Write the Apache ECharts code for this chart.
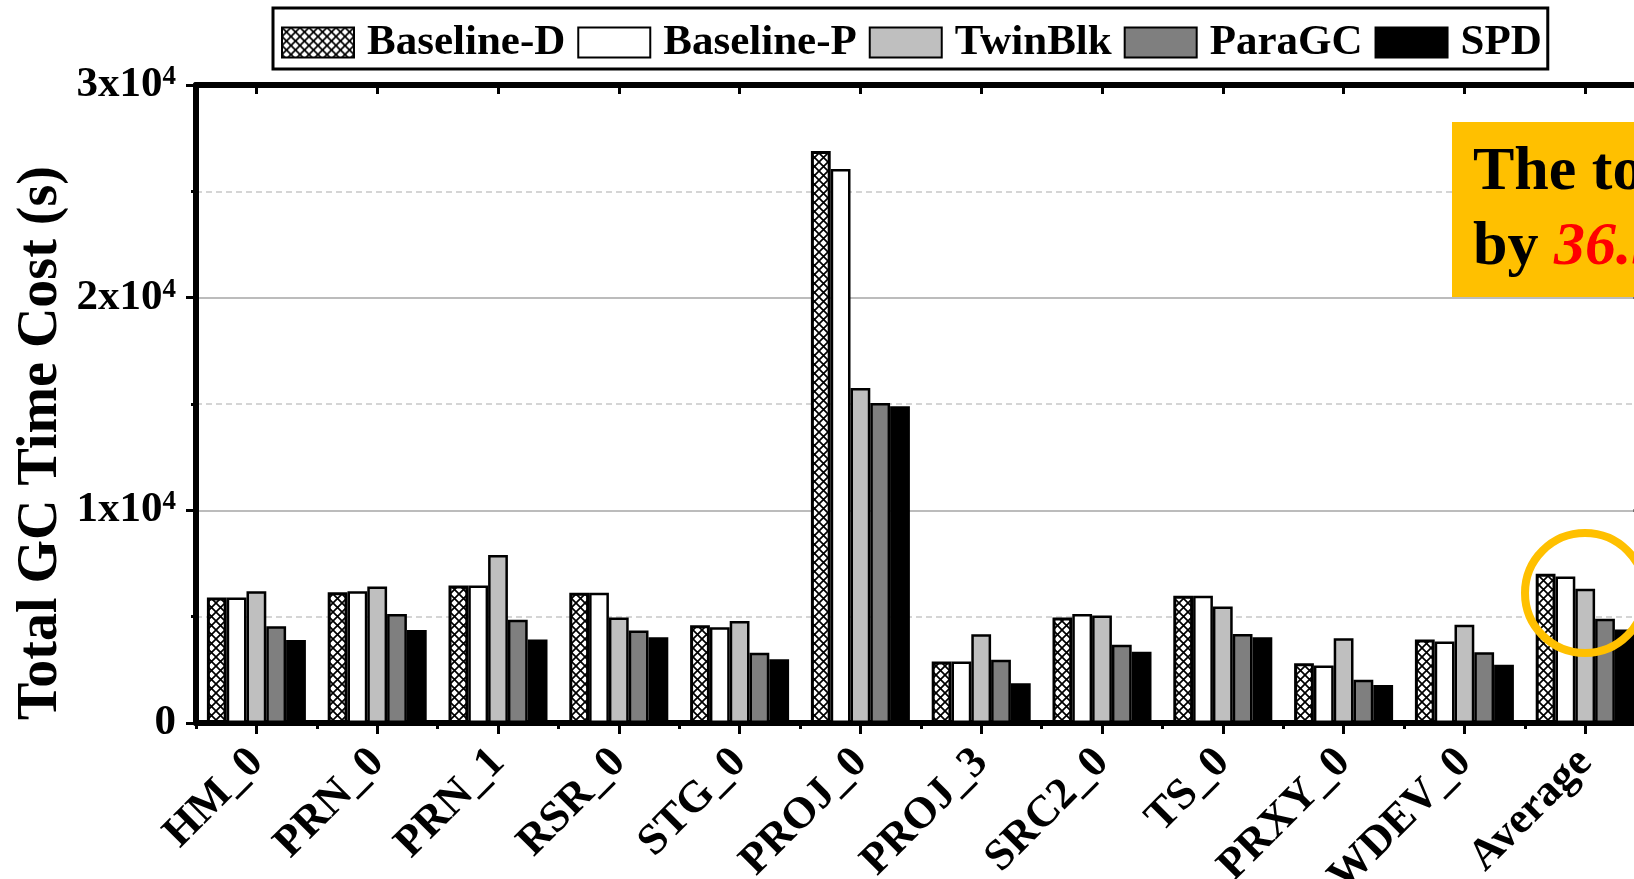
<!DOCTYPE html>
<html>
<head>
<meta charset="utf-8">
<script src="https://cdn.jsdelivr.net/npm/echarts@6/dist/echarts.min.js"></script>
<style>
  html, body { margin: 0; padding: 0; background: #fff; }
  #chart { width: 1634px; height: 879px; }
</style>
</head>
<body>
<div id="chart"></div>
<script>
// Workloads on the x axis
const categories = ['HM_0', 'PRN_0', 'PRN_1', 'RSR_0', 'STG_0', 'PROJ_0', 'PROJ_3', 'SRC2_0', 'TS_0', 'PRXY_0', 'WDEV_0', 'Average'];
// Total GC time cost (s) per scheme
const baselineD = [5900, 6150, 6460, 6130, 4600, 26900, 2890, 4960, 5980, 2810, 3930, 7020];
const baselineP = [5900, 6200, 6460, 6130, 4500, 26050, 2890, 5120, 5980, 2700, 3830, 6890];
const twinBlk   = [6200, 6420, 7900, 4960, 4800, 15750, 4170, 5050, 5480, 3990, 4620, 6310];
const paraGC    = [4550, 5130, 4850, 4350, 3300, 15050, 2970, 3680, 4190, 2030, 3330, 4900];
const spd       = [3900, 4370, 3930, 4030, 3000, 14900, 1870, 3350, 4030, 1790, 2740, 4400];
// y axis range and labelled ticks
const yMin = 0, yMax = 30000, yStep = 10000;

const SERIF = '"Liberation Serif", "Times New Roman", serif';

// cross-hatch fill for Baseline-D
function crossHatch() {
  const n = 9;
  const c = document.createElement('canvas');
  c.width = n; c.height = n;
  const g = c.getContext('2d');
  g.fillStyle = '#fff';
  g.fillRect(0, 0, n, n);
  g.strokeStyle = '#000';
  g.lineWidth = 1.7;
  g.beginPath();
  g.moveTo(-1, -1); g.lineTo(n + 1, n + 1);
  g.moveTo(n + 1, -1); g.lineTo(-1, n + 1);
  g.stroke();
  return c;
}

const chart = echarts.init(document.getElementById('chart'), null, { renderer: 'canvas' });

const gridLeft = 196, gridTop = 85, gridWidth = 1449.6, gridHeight = 638;

function barSeries(name, data, fill, border, bw) {
  return {
    name, type: 'bar', data,
    xAxisIndex: 0, yAxisIndex: 0,
    barWidth: 19.8, barGap: '0%',
    itemStyle: { color: fill, borderColor: border, borderWidth: bw },
    emphasis: { disabled: true },
    z: 3
  };
}

const option = {
  animation: false,
  backgroundColor: '#fff',
  grid: {
    left: gridLeft, top: gridTop, width: gridWidth, height: gridHeight,
    containLabel: false, outerBoundsMode: 'none'
  },
  legend: {
    left: 273, top: 8,
    padding: [13, 6, 5, 8],
    borderColor: '#000', borderWidth: 3,
    itemWidth: 72, itemHeight: 30, itemGap: 12,
    icon: 'rect',
    selectedMode: false,
    textStyle: { fontFamily: SERIF, fontWeight: 'bold', fontSize: 43, color: '#000', padding: [0, 0, 0, 8] },
    data: ['Baseline-D', 'Baseline-P', 'TwinBlk', 'ParaGC', 'SPD']
  },
  xAxis: [
    {
      type: 'category', data: categories, position: 'bottom',
      axisLine: { show: true, lineStyle: { color: '#000', width: 6 } },
      axisTick: { show: true, alignWithLabel: true, length: 11, lineStyle: { color: '#000', width: 3 } },
      axisLabel: { interval: 0, rotate: 45, margin: 33, fontFamily: SERIF, fontWeight: 'bold', fontSize: 44, color: '#000' },
      splitLine: { show: false }
    },
    {
      type: 'category', data: categories, position: 'bottom',
      axisLine: { show: false },
      axisTick: { show: true, alignWithLabel: false, length: 6, lineStyle: { color: '#000', width: 3 } },
      axisLabel: { show: false },
      splitLine: { show: false }
    },
    {
      type: 'category', data: categories, position: 'top',
      axisLine: { show: true, lineStyle: { color: '#000', width: 6 } },
      axisTick: { show: true, inside: true, alignWithLabel: true, length: 9, lineStyle: { color: '#000', width: 3 } },
      axisLabel: { show: false },
      splitLine: { show: false }
    }
  ],
  yAxis: [
    {
      type: 'value', min: yMin, max: yMax, interval: yStep, position: 'left',
      axisLine: { show: true, lineStyle: { color: '#000', width: 6 } },
      axisTick: { show: true, length: 10, lineStyle: { color: '#000', width: 3 } },
      minorTick: { show: true, splitNumber: 2, length: 5, lineStyle: { color: '#000', width: 3 } },
      splitLine: { show: true, lineStyle: { color: '#a6a6a6', width: 1.5 } },
      minorSplitLine: { show: true, lineStyle: { color: '#c8c8c8', width: 1.5, type: [6, 4] } },
      axisLabel: {
        margin: 20,
        formatter: v => v === 0 ? '{b|0}' : '{b|' + (v / 10000) + 'x10}{s|4}',
        rich: {
          b: { fontFamily: SERIF, fontWeight: 'bold', fontSize: 43, color: '#000' },
          s: { fontFamily: SERIF, fontWeight: 'bold', fontSize: 27, color: '#000', verticalAlign: 'top' }
        }
      }
    },
    {
      type: 'value', min: yMin, max: yMax, interval: yStep, position: 'right',
      axisLine: { show: true, lineStyle: { color: '#000', width: 6 } },
      axisTick: { show: true, inside: true, length: 12, lineStyle: { color: '#000', width: 3 } },
      axisLabel: { show: false },
      splitLine: { show: false }
    }
  ],
  series: [
    barSeries('Baseline-D', baselineD, { image: crossHatch(), repeat: 'repeat' }, '#000', 3),
    barSeries('Baseline-P', baselineP, '#ffffff', '#000', 2.5),
    barSeries('TwinBlk', twinBlk, '#bfbfbf', '#000', 2.5),
    barSeries('ParaGC', paraGC, '#7f7f7f', '#000', 2.5),
    barSeries('SPD', spd, '#000000', '#000', 2.5)
  ],
  graphic: [
    {
      type: 'text', x: 42, y: 443, rotation: Math.PI / 2, z: 10,
      style: {
        text: 'Total GC Time Cost (s)',
        font: 'bold 56px ' + SERIF, fill: '#000',
        align: 'center', verticalAlign: 'middle'
      }
    },
    {
      type: 'rect', z: 20,
      shape: { x: 1452, y: 122, width: 400, height: 175 },
      style: { fill: '#ffc000' }
    },
    {
      type: 'text', x: 1473, y: 173, z: 21,
      style: {
        text: 'The total GC time cost is reduced',
        font: 'bold 62px ' + SERIF, fill: '#000',
        align: 'left', verticalAlign: 'middle'
      }
    },
    {
      type: 'text', x: 1473, y: 248, z: 21,
      style: {
        text: '{b|by }{r|36.9%}{b| on average}',
        align: 'left', verticalAlign: 'middle',
        rich: {
          b: { fontFamily: SERIF, fontWeight: 'bold', fontSize: 62, fill: '#000' },
          r: { fontFamily: SERIF, fontWeight: 'bold', fontStyle: 'italic', fontSize: 62, fill: '#ff0000' }
        }
      }
    },
    {
      type: 'circle', z: 20,
      shape: { cx: 1585, cy: 593, r: 60 },
      style: { fill: 'none', stroke: '#ffc000', lineWidth: 8 }
    }
  ]
};

chart.setOption(option);
</script>
</body>
</html>
